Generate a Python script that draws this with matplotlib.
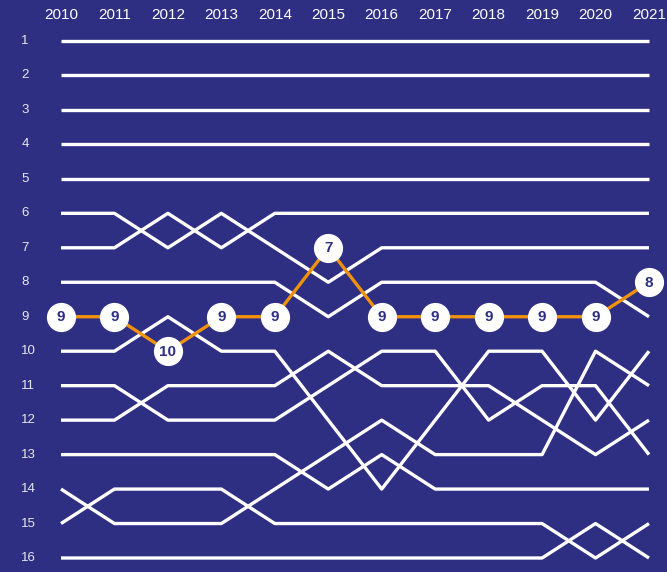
import matplotlib.pyplot as plt

# data
years = [2010, 2011, 2012, 2013, 2014, 2015, 2016, 2017, 2018, 2019, 2020, 2021]
ranks = list(range(1, 17))

# white lines, rank per year
flat_1 = [1] * 12
flat_2 = [2] * 12
flat_3 = [3] * 12
flat_4 = [4] * 12
flat_5 = [5] * 12
line_a = [6, 6, 7, 6, 7, 8, 7, 7, 7, 7, 7, 7]
line_b = [7, 7, 6, 7, 6, 6, 6, 6, 6, 6, 6, 6]
line_c = [8, 8, 8, 8, 8, 9, 8, 8, 8, 8, 8, 9]
line_d = [10, 10, 9, 10, 10, 12, 14, 12, 10, 10, 12, 10]
line_e = [11, 11, 12, 12, 12, 11, 10, 10, 12, 11, 11, 13]
line_f = [12, 12, 11, 11, 11, 10, 11, 11, 11, 12, 13, 12]
line_g = [13, 13, 13, 13, 13, 14, 13, 14, 14, 14, 14, 14]
line_h = [14, 15, 15, 15, 14, 13, 12, 13, 13, 13, 10, 11]
line_i = [15, 14, 14, 14, 15, 15, 15, 15, 15, 15, 16, 15]
line_j = [16, 16, 16, 16, 16, 16, 16, 16, 16, 16, 15, 16]

white_lines = [flat_1, flat_2, flat_3, flat_4, flat_5, line_a, line_b, line_c,
               line_d, line_e, line_f, line_g, line_h, line_i, line_j]

# highlighted series
highlight = [9, 9, 10, 9, 9, 7, 9, 9, 9, 9, 9, 8]

bg = '#2e2e82'
orange = '#f0920c'

fig = plt.figure(figsize=(6.67, 5.72), dpi=100)
fig.patch.set_facecolor(bg)
ax = fig.add_axes([0, 0, 1, 1])
ax.set_facecolor(bg)

for r in white_lines:
    ax.plot(years, r, color='white', lw=2.4, solid_capstyle='butt', zorder=2)

ax.plot(years, highlight, color=orange, lw=2.4, zorder=3)
ax.plot(years, highlight, 'o', ms=20, mfc='white', mec='white', zorder=4)
for x, y in zip(years, highlight):
    ax.text(x, y + 0.02, str(y), ha='center', va='center', color=bg, fontsize=11,
            fontweight='bold', family='Liberation Sans', zorder=5)

# axes limits so data maps onto pixel positions of the reference
ax.set_xlim(2008.859, 2021.337)
ax.set_ylim(16.406, -0.189)
ax.axis('off')

for x in years:
    ax.text(x, 0.25, str(x), ha='center', va='center', color='white',
            fontsize=11, family='Liberation Sans')
for r in ranks:
    ax.text(2009.26, r, str(r), ha='left', va='center', color='#e8e8f0',
            fontsize=9.5, family='Liberation Sans')

fig.savefig('out.png', dpi=100, facecolor=bg)
